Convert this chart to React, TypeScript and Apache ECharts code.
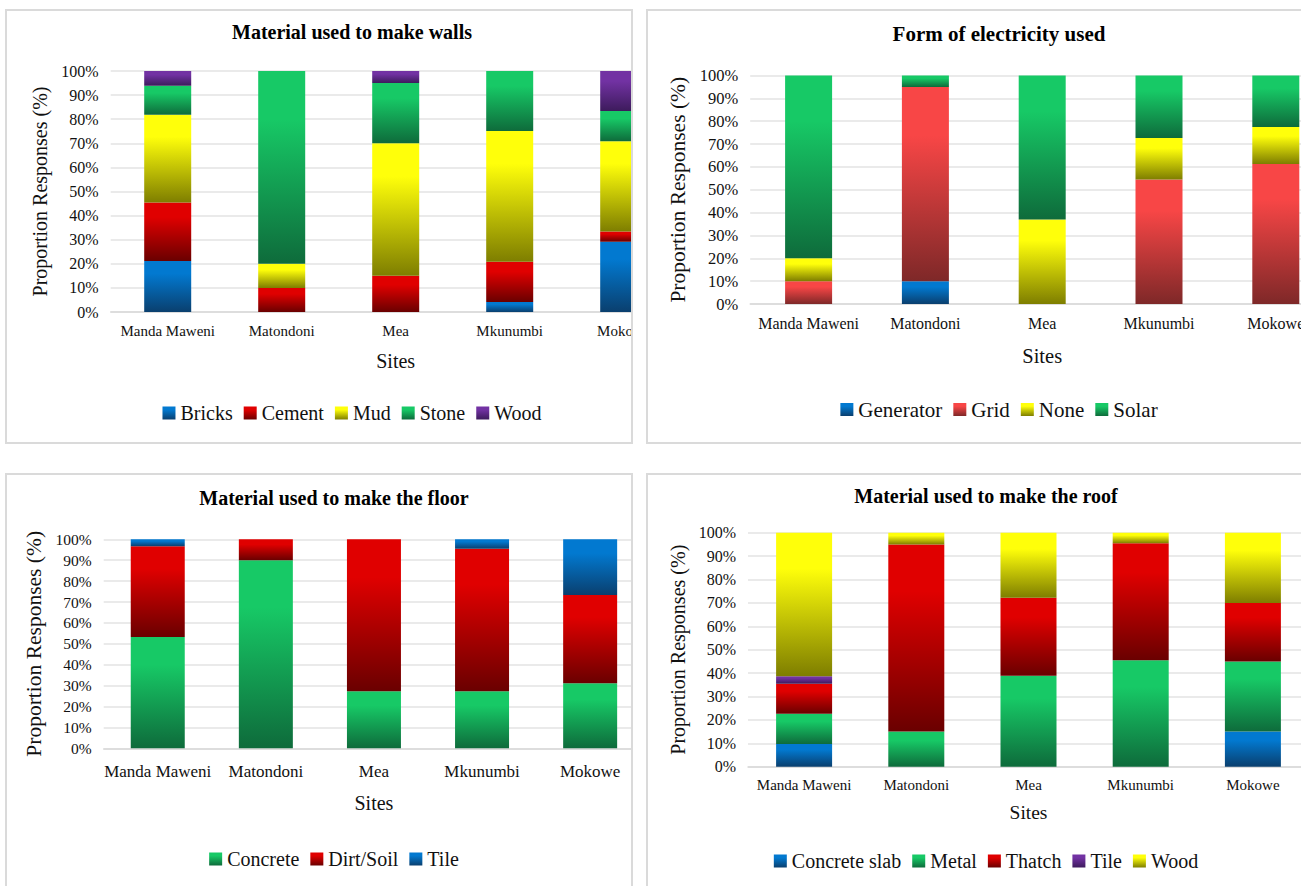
import React, { useEffect, useRef } from "react";
import * as echarts from "echarts";

// Survey sites (x axis categories)
const sites = ["Manda Maweni", "Matondoni", "Mea", "Mkunumbi", "Mokowe"];

// Y axis ticks: 0% .. 100% in steps of 10
const yMin = 0;
const yMax = 100;
const yStep = 10;

// Material used to make walls (% of responses)
const wallBricks = [21.2, 0, 0, 4.2, 29.2];
const wallCement = [24.2, 10, 15, 16.7, 4.2];
const wallMud = [36.4, 10, 55, 54.2, 37.5];
const wallStone = [12.1, 80, 25, 25, 12.5];
const wallWood = [6.1, 0, 5, 0, 16.6];

// Form of electricity used (% of responses)
const elecGenerator = [0, 10, 0, 0, 0];
const elecGrid = [10, 85, 0, 54.5, 61.3];
const elecNone = [10, 0, 37, 18.2, 16.2];
const elecSolar = [80, 5, 63, 27.3, 22.5];

// Material used to make the floor (% of responses)
const floorConcrete = [53.3, 90, 27.3, 27.3, 31.1];
const floorDirt = [43.4, 10, 72.7, 68.2, 42.2];
const floorTile = [3.3, 0, 0, 4.5, 26.7];

// Material used to make the roof (% of responses)
const roofConcreteSlab = [9.7, 0, 0, 0, 15];
const roofMetal = [12.9, 15, 38.9, 45.5, 30];
const roofThatch = [12.9, 80, 33.3, 50, 25];
const roofTile = [3.2, 0, 0, 0, 0];
const roofWood = [61.3, 5, 27.8, 4.5, 30];

const FONT = "Liberation Serif";
const TEXT = "#111";

// Top / bottom colours of the shaded fills
const BLUE: [string, string] = ["#0279d0", "#0a3f6e"];
const RED: [string, string] = ["#e00000", "#6a0000"];
const GRID_RED: [string, string] = ["#f84646", "#7e2828"];
const YELLOW: [string, string] = ["#ffff0a", "#7e7e00"];
const GREEN: [string, string] = ["#17c966", "#0e6b3b"];
const PURPLE: [string, string] = ["#7232a3", "#3d1b5c"];

const shade = (c: [string, string]) =>
  new echarts.graphic.LinearGradient(0, 0, 0, 1, [
    { offset: 0, color: c[0] },
    { offset: 0.25, color: c[0] },
    { offset: 1, color: c[1] },
  ]);

type SeriesSpec = { name: string; data: number[]; fill: [string, string] };

type PanelSpec = {
  key: string;
  x0: number;
  y0: number;
  w: number;
  h: number;
  borders: { left: boolean; right: boolean; top: boolean; bottom: boolean };
  chartW: number;
  title: string;
  titleSize: number;
  titleTop: number;
  grid: { left: number; top: number; width: number; height: number };
  barWidth: number;
  yLabelSize: number;
  yLabelMargin: number;
  catSize: number;
  catMargin: number;
  xNameSize: number;
  xNameGap: number;
  yNameSize: number;
  yNameGap: number;
  legendTop: number;
  legendSize: number;
  legendGap: number;
  series: SeriesSpec[];
};

const panels: PanelSpec[] = [
  {
    key: "walls",
    x0: 5,
    y0: 9,
    w: 628,
    h: 435,
    borders: { left: true, right: true, top: true, bottom: true },
    chartW: 694,
    title: "Material used to make walls",
    titleSize: 20,
    titleTop: 13,
    grid: { left: 105.7, top: 62, width: 570, height: 241 },
    barWidth: 47,
    yLabelSize: 16,
    yLabelMargin: 12,
    catSize: 15,
    catMargin: 11.5,
    xNameSize: 20,
    xNameGap: 39,
    yNameSize: 20,
    yNameGap: 60,
    legendTop: 394,
    legendSize: 20,
    legendGap: 11,
    series: [
      { name: "Bricks", data: wallBricks, fill: BLUE },
      { name: "Cement", data: wallCement, fill: RED },
      { name: "Mud", data: wallMud, fill: YELLOW },
      { name: "Stone", data: wallStone, fill: GREEN },
      { name: "Wood", data: wallWood, fill: PURPLE },
    ],
  },
  {
    key: "electricity",
    x0: 646,
    y0: 9,
    w: 655,
    h: 435,
    borders: { left: true, right: false, top: true, bottom: true },
    chartW: 706,
    title: "Form of electricity used",
    titleSize: 21,
    titleTop: 14,
    grid: { left: 104.2, top: 66.5, width: 584, height: 228.5 },
    barWidth: 47,
    yLabelSize: 16.5,
    yLabelMargin: 12,
    catSize: 16,
    catMargin: 11.5,
    xNameSize: 20.5,
    xNameGap: 41,
    yNameSize: 21.5,
    yNameGap: 55,
    legendTop: 390,
    legendSize: 21,
    legendGap: 11,
    series: [
      { name: "Generator", data: elecGenerator, fill: BLUE },
      { name: "Grid", data: elecGrid, fill: GRID_RED },
      { name: "None", data: elecNone, fill: YELLOW },
      { name: "Solar", data: elecSolar, fill: GREEN },
    ],
  },
  {
    key: "floor",
    x0: 5,
    y0: 473,
    w: 628,
    h: 413,
    borders: { left: true, right: true, top: true, bottom: false },
    chartW: 658,
    title: "Material used to make the floor",
    titleSize: 20,
    titleTop: 15,
    grid: { left: 98.7, top: 66.3, width: 540.5, height: 209 },
    barWidth: 54,
    yLabelSize: 15.5,
    yLabelMargin: 12,
    catSize: 17,
    catMargin: 15,
    xNameSize: 20,
    xNameGap: 45,
    yNameSize: 21.5,
    yNameGap: 49,
    legendTop: 376,
    legendSize: 20,
    legendGap: 11,
    series: [
      { name: "Concrete", data: floorConcrete, fill: GREEN },
      { name: "Dirt/Soil", data: floorDirt, fill: RED },
      { name: "Tile", data: floorTile, fill: BLUE },
    ],
  },
  {
    key: "roof",
    x0: 646,
    y0: 473,
    w: 655,
    h: 413,
    borders: { left: true, right: false, top: true, bottom: false },
    chartW: 680,
    title: "Material used to make the roof",
    titleSize: 20,
    titleTop: 13,
    grid: { left: 102, top: 59.7, width: 561, height: 234 },
    barWidth: 56,
    yLabelSize: 16,
    yLabelMargin: 12,
    catSize: 15,
    catMargin: 11,
    xNameSize: 19.5,
    xNameGap: 36,
    yNameSize: 20,
    yNameGap: 56,
    legendTop: 378,
    legendSize: 20,
    legendGap: 11,
    series: [
      { name: "Concrete slab", data: roofConcreteSlab, fill: BLUE },
      { name: "Metal", data: roofMetal, fill: GREEN },
      { name: "Thatch", data: roofThatch, fill: RED },
      { name: "Tile", data: roofTile, fill: PURPLE },
      { name: "Wood", data: roofWood, fill: YELLOW },
    ],
  },
];

function buildOption(p: PanelSpec): echarts.EChartsOption {
  return {
    animation: false,
    backgroundColor: "#fff",
    textStyle: { fontFamily: FONT, color: TEXT },
    title: {
      text: p.title,
      left: "center",
      top: p.titleTop,
      padding: 0,
      textStyle: {
        fontFamily: FONT,
        fontSize: p.titleSize,
        fontWeight: "bold",
        color: "#000",
      },
    },
    legend: {
      left: "center",
      top: p.legendTop,
      padding: 0,
      icon: "rect",
      itemWidth: 13,
      itemHeight: 13,
      itemGap: p.legendGap,
      textStyle: { fontFamily: FONT, fontSize: p.legendSize, color: TEXT },
      data: p.series.map((s) => s.name),
    },
    grid: {
      left: p.grid.left,
      top: p.grid.top,
      width: p.grid.width,
      height: p.grid.height,
      containLabel: false,
    },
    xAxis: {
      type: "category",
      data: sites,
      name: "Sites",
      nameLocation: "middle",
      nameGap: p.xNameGap,
      nameTextStyle: { fontFamily: FONT, fontSize: p.xNameSize, color: TEXT },
      axisTick: { show: false },
      axisLine: { show: true, lineStyle: { color: "#d9d9d9", width: 1.5 } },
      axisLabel: {
        fontFamily: FONT,
        fontSize: p.catSize,
        color: TEXT,
        margin: p.catMargin,
        interval: 0,
      },
    },
    yAxis: {
      type: "value",
      min: yMin,
      max: yMax,
      interval: yStep,
      name: "Proportion Responses (%)",
      nameLocation: "middle",
      nameGap: p.yNameGap,
      nameTextStyle: { fontFamily: FONT, fontSize: p.yNameSize, color: TEXT },
      axisLine: { show: false },
      axisTick: { show: false },
      axisLabel: {
        fontFamily: FONT,
        fontSize: p.yLabelSize,
        color: TEXT,
        margin: p.yLabelMargin,
        formatter: "{value}%",
      },
      splitLine: { show: true, lineStyle: { color: "#e3e3e3", width: 1.5 } },
    },
    series: p.series.map((s) => ({
      type: "bar" as const,
      name: s.name,
      stack: "total",
      data: s.data,
      barWidth: p.barWidth,
      itemStyle: { color: shade(s.fill) },
    })),
  };
}

function Panel({ p }: { p: PanelSpec }) {
  const ref = useRef<HTMLDivElement | null>(null);
  useEffect(() => {
    if (!ref.current) return;
    const chart = echarts.init(ref.current, undefined, { renderer: "svg" });
    chart.setOption(buildOption(p));
    return () => chart.dispose();
  }, [p]);
  const border = "2px solid #dadada";
  return (
    <>
      <div
        style={{
          position: "absolute",
          left: p.x0,
          top: p.y0,
          width: p.w,
          height: p.h,
          overflow: "hidden",
          background: "#fff",
        }}
      >
        <div
          ref={ref}
          style={{ position: "absolute", left: 0, top: 0, width: p.chartW, height: p.h }}
        />
      </div>
      <div
        style={{
          position: "absolute",
          left: p.x0,
          top: p.y0,
          width: p.w,
          height: p.h,
          boxSizing: "border-box",
          borderLeft: p.borders.left ? border : "none",
          borderRight: p.borders.right ? border : "none",
          borderTop: p.borders.top ? border : "none",
          borderBottom: p.borders.bottom ? border : "none",
          pointerEvents: "none",
        }}
      />
    </>
  );
}

export default function App() {
  return (
    <div
      style={{
        position: "absolute",
        left: 0,
        top: 0,
        width: 1301,
        height: 886,
        overflow: "hidden",
        background: "#fff",
      }}
    >
      {panels.map((p) => (
        <Panel key={p.key} p={p} />
      ))}
    </div>
  );
}
